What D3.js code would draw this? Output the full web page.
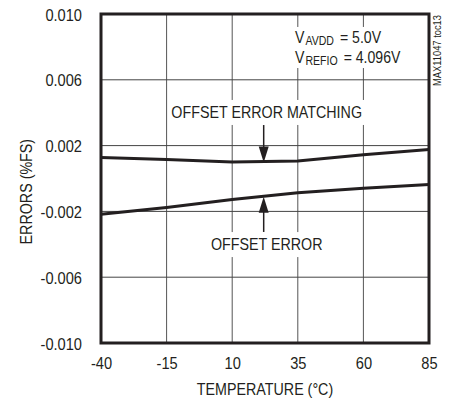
<!DOCTYPE html>
<meta charset="utf-8">
<style>
    body { margin: 0; background: #fff; }
    text {
        font-family: "Liberation Sans", Arial, sans-serif;
        fill: #231f20;
    }
</style>
<svg width="456" height="402"></svg>
<script src="https://d3js.org/d3.v7.min.js"></script>
<script>
    // data
    var temps = [-40, -15, 10, 35, 60, 85];
    var offsetMatching = [0.00127, 0.00115, 0.00100, 0.00106, 0.00145, 0.00176];
    var offsetError = [-0.00218, -0.00176, -0.00127, -0.00086, -0.00060, -0.00036];
    var xTicks = [-40, -15, 10, 35, 60, 85];
    var yTicks = [0.010, 0.006, 0.002, -0.002, -0.006, -0.010];
    var yTickLabels = ["0.010", "0.006", "0.002", "-0.002", "-0.006", "-0.010"];

    var svg = d3.select("svg");
    var ink = "#231f20";

    var x = d3.scaleLinear().domain([-40, 85]).range([101, 429]);
    var y = d3.scaleLinear().domain([-0.010, 0.010]).range([343, 14]);

    // squeeze text to look like a condensed face
    function narrow(sel, k) {
        sel.each(function () {
            var len = this.getComputedTextLength();
            d3.select(this).attr("textLength", len * (k || 0.84))
                .attr("lengthAdjust", "spacingAndGlyphs");
        });
    }

    // white box behind a text so the grid breaks around it
    function knockout(sel, px, py) {
        sel.each(function () {
            var b = this.getBBox();
            svg.insert("rect", "g.marks")
                .attr("x", b.x - px).attr("y", b.y - py)
                .attr("width", b.width + 2 * px).attr("height", b.height + 2 * py)
                .attr("fill", "#fff");
        });
    }

    // grid
    var grid = svg.append("g").attr("class", "grid");
    grid.selectAll("line.v")
        .data(xTicks.slice(1, -1))
        .enter().append("line")
        .attr("class", "v")
        .attr("x1", function (d) { return x(d); })
        .attr("x2", function (d) { return x(d); })
        .attr("y1", y(0.010))
        .attr("y2", y(-0.010))
        .attr("stroke", "#555")
        .attr("stroke-width", 1);

    grid.selectAll("line.h")
        .data(yTicks.slice(1, -1))
        .enter().append("line")
        .attr("class", "h")
        .attr("x1", x(-40))
        .attr("x2", x(85))
        .attr("y1", function (d) { return y(d); })
        .attr("y2", function (d) { return y(d); })
        .attr("stroke", "#444")
        .attr("stroke-width", 1);

    var marks = svg.append("g").attr("class", "marks");

    // curves
    var line = d3.line()
        .x(function (d, i) { return x(temps[i]); })
        .y(function (d) { return y(d); });

    [offsetMatching, offsetError].forEach(function (s) {
        marks.append("path")
            .attr("d", line(s))
            .attr("fill", "none")
            .attr("stroke", ink)
            .attr("stroke-width", 3);
    });

    // frame
    marks.append("rect")
        .attr("x", x(-40))
        .attr("y", y(0.010))
        .attr("width", x(85) - x(-40))
        .attr("height", y(-0.010) - y(0.010))
        .attr("fill", "none")
        .attr("stroke", ink)
        .attr("stroke-width", 3);

    // axes
    var yAxis = marks.append("g")
        .attr("transform", "translate(" + x(-40) + ",0)")
        .call(d3.axisLeft(y).tickValues(yTicks)
            .tickFormat(function (d, i) { return yTickLabels[i]; })
            .tickSize(0).tickPadding(19));
    yAxis.select(".domain").remove();
    yAxis.selectAll("text")
        .attr("font-size", 17)
        .attr("font-family", "Liberation Sans, Arial, sans-serif")
        .attr("fill", ink)
        .attr("dy", "0.36em")
        .call(narrow, 0.86);

    var xAxis = marks.append("g")
        .attr("transform", "translate(0," + y(-0.010) + ")")
        .call(d3.axisBottom(x).tickValues(xTicks)
            .tickFormat(function (d) { return String(d); })
            .tickSize(0).tickPadding(14));
    xAxis.select(".domain").remove();
    xAxis.selectAll("text")
        .attr("font-size", 17)
        .attr("font-family", "Liberation Sans, Arial, sans-serif")
        .attr("fill", ink)
        .call(narrow, 0.86);

    // axis titles
    marks.append("text")
        .attr("x", (x(-40) + x(85)) / 2)
        .attr("y", 395)
        .attr("text-anchor", "middle")
        .attr("font-size", 17)
        .text("TEMPERATURE (°C)")
        .call(narrow);

    marks.append("text")
        .attr("transform", "translate(32," + y(-0.0008) + ") rotate(-90)")
        .attr("text-anchor", "middle")
        .attr("font-size", 17)
        .text("ERRORS (%FS)")
        .call(narrow);

    // annotations
    var ax = x(22);
    function arrow(x0, yStart, yTip, dir) {
        marks.append("line")
            .attr("x1", x0).attr("x2", x0)
            .attr("y1", yStart).attr("y2", yTip - dir * 12)
            .attr("stroke", ink).attr("stroke-width", 1.5);
        marks.append("path")
            .attr("d", "M" + (x0 - 5) + "," + (yTip - dir * 16) +
                "L" + (x0 + 5) + "," + (yTip - dir * 16) +
                "L" + x0 + "," + yTip + "Z")
            .attr("fill", ink);
    }
    arrow(ax, y(0.00325), y(0.00097), 1);
    arrow(ax, y(-0.00325), y(-0.00111), -1);

    marks.append("text")
        .attr("x", ax + 3)
        .attr("y", y(0.00368))
        .attr("text-anchor", "middle")
        .attr("font-size", 17)
        .text("OFFSET ERROR MATCHING")
        .call(narrow)
        .call(knockout, 3, 3);

    marks.append("text")
        .attr("x", ax + 3)
        .attr("y", y(-0.00435))
        .attr("text-anchor", "middle")
        .attr("font-size", 17)
        .text("OFFSET ERROR")
        .call(narrow)
        .call(knockout, 3, 3);

    // V labels: separate text pieces laid out one after another
    function condLabel(yPos, sub, rest) {
        var cx = 295;
        var parts = [["V", 16, 0, 0], [sub, 12, 2, 0], ["=\u00a05.0V", 16, 0, 5]];
        parts[2][0] = rest;
        parts.forEach(function (p) {
            cx += p[3];
            var t = marks.append("text")
                .attr("x", cx)
                .attr("y", yPos + p[2])
                .attr("font-size", p[1])
                .text(p[0]);
            var len = t.node().getComputedTextLength() * 0.88;
            t.attr("textLength", len).attr("lengthAdjust", "spacingAndGlyphs");
            t.call(knockout, 2, 2);
            cx += len + 1;
        });
    }
    condLabel(y(0.00824), "AVDD", "= 5.0V");
    condLabel(y(0.00702), "REFIO", "= 4.096V");

    marks.append("text")
        .attr("transform", "translate(441,15) rotate(-90)")
        .attr("text-anchor", "end")
        .attr("font-size", 11)
        .text("MAX11047 toc13")
        .call(narrow, 0.85);
</script>
